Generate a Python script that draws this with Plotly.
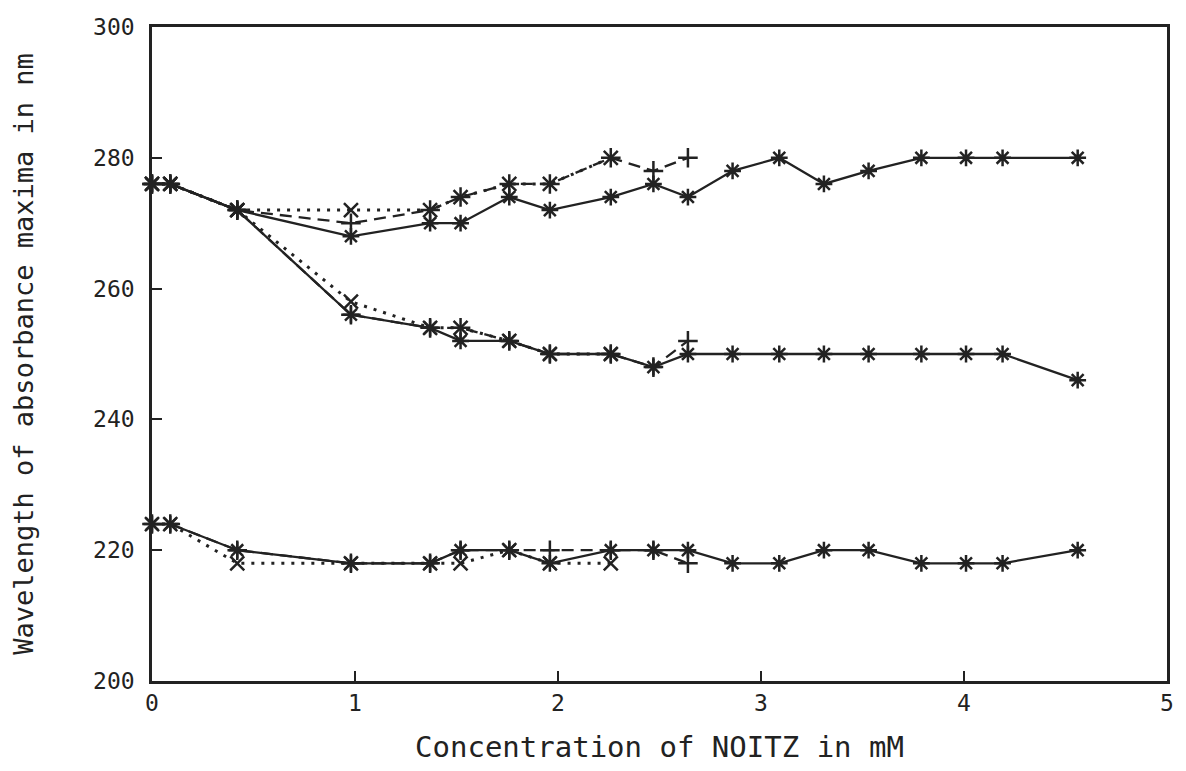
import plotly.graph_objects as go

# concentrations (mM)
x_all = [0, 0.09, 0.42, 0.98, 1.37, 1.52, 1.76, 1.96, 2.26, 2.47, 2.64,
         2.86, 3.09, 3.31, 3.53, 3.79, 4.01, 4.19, 4.56]
x_dash = x_all[:11]
x_dot = x_all[:9]

# upper band
up_solid = [276, 276, 272, 268, 270, 270, 274, 272, 274, 276, 274,
            278, 280, 276, 278, 280, 280, 280, 280]
up_dash = [276, 276, 272, 270, 272, 274, 276, 276, 280, 278, 280]
up_dot = [276, 276, 272, 272, 272, 274, 276, 276, 280]

# middle band
mid_solid = [276, 276, 272, 256, 254, 252, 252, 250, 250, 248, 250,
             250, 250, 250, 250, 250, 250, 250, 246]
mid_dash = [276, 276, 272, 256, 254, 254, 252, 250, 250, 248, 252]
mid_dot = [276, 276, 272, 258, 254, 254, 252, 250, 250]

# lower band
lo_solid = [224, 224, 220, 218, 218, 220, 220, 218, 220, 220, 220,
            218, 218, 220, 220, 218, 218, 218, 220]
lo_dash = [224, 224, 220, 218, 218, 220, 220, 220, 220, 220, 218]
lo_dot = [224, 224, 218, 218, 218, 218, 220, 218, 218]

fig = go.Figure()

def add(x, y, dash, symbol, width):
    fig.add_trace(go.Scatter(
        x=x, y=y, mode="lines+markers",
        line=dict(color="#222", width=width, dash=dash),
        marker=dict(symbol=symbol, size=14, color="#222",
                    line=dict(color="#222", width=2.5)),
        showlegend=False, cliponaxis=False))

for xs, ys in [(x_dot, up_dot), (x_dot, mid_dot), (x_dot, lo_dot)]:
    add(xs, ys, "3px,7px", "x-thin-open", 3)
for xs, ys in [(x_dash, up_dash), (x_dash, mid_dash), (x_dash, lo_dash)]:
    add(xs, ys, "12px,7px", "cross-thin-open", 2.3)
for xs, ys in [(x_all, up_solid), (x_all, mid_solid), (x_all, lo_solid)]:
    add(xs, ys, "solid", "asterisk-open", 2.3)

font = "DejaVu Sans Mono, monospace"
fig.update_layout(
    width=1186, height=771,
    margin=dict(l=152, r=14, t=27, b=88),
    paper_bgcolor="white", plot_bgcolor="white",
    font=dict(family=font, color="#222"),
    xaxis=dict(range=[0, 5], tickvals=[0, 1, 2, 3, 4, 5],
               ticks="inside", ticklen=10, tickwidth=2, tickcolor="#222",
               showline=True, linecolor="#222", linewidth=2.5, mirror=True,
               showgrid=False, zeroline=False, ticklabelstandoff=0,
               tickfont=dict(size=23, family=font),
               title=dict(text="Concentration of NOITZ in mM",
                          font=dict(size=29, family=font), standoff=22)),
    yaxis=dict(range=[200, 300], tickvals=[200, 220, 240, 260, 280, 300],
               ticks="inside", ticklen=10, tickwidth=2, tickcolor="#222",
               showline=True, linecolor="#222", linewidth=2.5, mirror=True,
               showgrid=False, zeroline=False, ticklabelstandoff=10,
               tickfont=dict(size=23, family=font),
               title=dict(text="Wavelength of absorbance maxima in nm",
                          font=dict(size=27, family=font), standoff=52)),
)

fig.write_html("out.html")
